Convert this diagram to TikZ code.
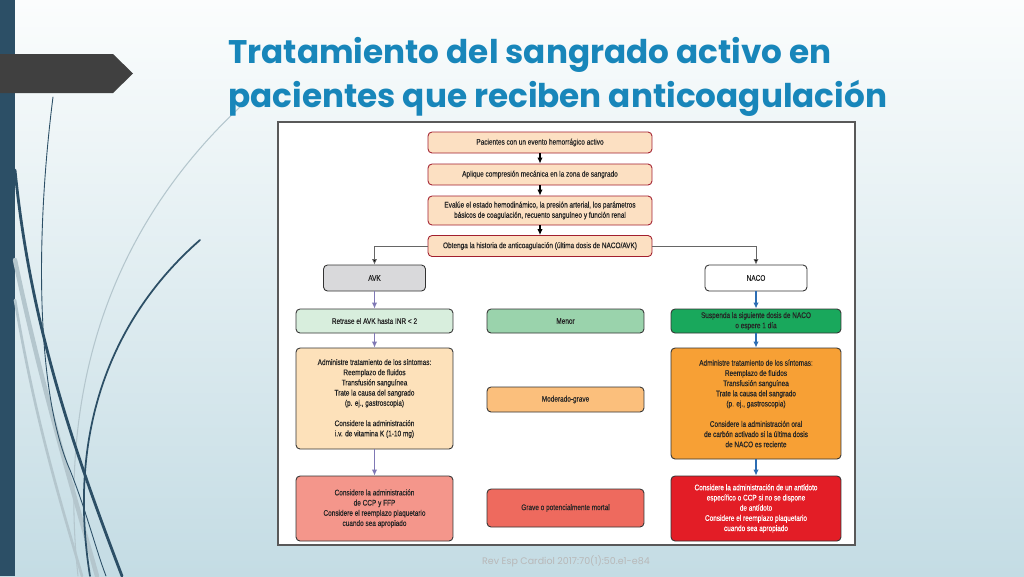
\documentclass[tikz,border=0pt]{standalone}
\usepackage{xcolor}
\usepackage{fontspec}
\setmainfont{Liberation Sans}
\newfontfamily\boxfont[FakeStretch=0.8,FakeBold=0.4]{Liberation Sans}
\newfontfamily\titlefont{Poppins}
\usepackage{tikz}
\usetikzlibrary{positioning,arrows.meta}

\definecolor{barblue}{HTML}{2C4F66}
\definecolor{titleblue}{HTML}{1886BA}
\definecolor{bgtop}{HTML}{FBFDFD}
\definecolor{bgbottom}{HTML}{C4DCE4}
\definecolor{lightline}{HTML}{B4C6CD}
\definecolor{peach}{HTML}{FCE0C2}
\definecolor{topborder}{HTML}{A21F2E}
\definecolor{avkgray}{HTML}{D9D9DB}
\definecolor{palegreen}{HTML}{D8EEDD}
\definecolor{midgreen}{HTML}{9AD3AC}
\definecolor{darkgreen}{HTML}{19A85C}
\definecolor{lightpeach}{HTML}{FDE1BA}
\definecolor{lightorange}{HTML}{FBBF7C}
\definecolor{orange}{HTML}{F7A035}
\definecolor{salmon}{HTML}{F4968B}
\definecolor{coral}{HTML}{EE6A5E}
\definecolor{brightred}{HTML}{E31D26}
\definecolor{avkarrow}{HTML}{7F78B5}
\definecolor{nacoarrow}{HTML}{2C6DB3}

\begin{document}
\begin{tikzpicture}[x=0.02cm, y=-0.02cm,
  box/.style={draw=black!80, rounded corners=0.8mm, line width=0.5pt, align=center,
    font=\boxfont\fontsize{4.6}{5.8}\selectfont, text=black!85, inner sep=1pt},
  topbox/.style={box, draw=topborder, fill=peach, minimum width=4.48cm, minimum height=0.42cm},
  drugbox/.style={box, minimum width=2.04cm, minimum height=0.52cm},
  leftbox/.style={box, minimum width=3.14cm},
  midbox/.style={box, minimum width=3.14cm},
  rightbox/.style={box, minimum width=3.4cm},
  flow/.style={-{Latex[length=1.2mm,width=1.1mm]}, line width=0.7pt},
  branch/.style={-{Latex[length=1.1mm,width=1mm,fill=black]}, draw=black!60, line width=0.4pt},
  avkflow/.style={flow, draw=avkarrow, -{Latex[length=1.2mm,width=1.1mm,fill=avkarrow]}},
  nacoflow/.style={flow, draw=nacoarrow, -{Latex[length=1.2mm,width=1.1mm,fill=nacoarrow]}},
  darkcurve/.style={draw=barblue, line cap=round},
  lightcurve/.style={draw=lightline, line cap=round},
]
  \useasboundingbox (0,0) rectangle (1024,576);

  % Background
  \shade[top color=bgtop, bottom color=bgbottom] (0,0) rectangle (1024,576);
  \fill[barblue] (0,0) rectangle (15,576);
  \fill[black!75] (0,54) -- (113,54) -- (133,73.5) -- (113,93) -- (0,93) -- cycle;

  % Decorative curves
  \draw[lightcurve, line width=2.5pt] (15,260) .. controls (40,380) and (70,480) .. (97,576);
  \draw[lightcurve, line width=1.5pt] (15,300) .. controls (35,420) and (60,500) .. (82,576);
  \draw[lightcurve, line width=0.6pt] (240,107) .. controls (130,210) and (55,360) .. (78,576);
  \draw[darkcurve, line width=0.5pt] (53,97) .. controls (36,230) and (35,390) .. (70,470) .. controls (86,510) and (96,550) .. (106,576);
  \draw[darkcurve, line width=1.6pt] (15,170) .. controls (30,320) and (70,440) .. (122,576);
  \draw[darkcurve, line width=1pt] (200,240) .. controls (120,310) and (65,420) .. (90,576);

  % Title
  \node[anchor=base west, font=\titlefont\bfseries\fontsize{18.6}{22}\selectfont, text=titleblue, inner sep=0pt]
    (title1) at (228,63) {Tratamiento del sangrado activo en};
  \node[anchor=base west, font=\titlefont\bfseries\fontsize{18.6}{22}\selectfont, text=titleblue, inner sep=0pt]
    (title2) at (228,107) {pacientes que reciben anticoagulación};

  % Panel
  \draw[fill=white, draw=black!65, line width=0.9pt] (278,122) rectangle (855,545);

  % Common steps
  \node[topbox] (evento) at (540,142.5) {Pacientes con un evento hemorrágico activo};
  \node[topbox] (compresion) at (540,174.5) {Aplique compresión mecánica en la zona de sangrado};
  \node[topbox, minimum height=0.58cm] (evalue) at (540,210.5) {Evalúe el estado hemodinámico, la presión arterial, los parámetros\\básicos de coagulación, recuento sanguíneo y función renal};
  \node[topbox] (historia) at (540,246) {Obtenga la historia de anticoagulación (última dosis de NACO/AVK)};

  % Drug type
  \node[drugbox, fill=avkgray] (avk) at (374.5,278) {AVK};
  \node[drugbox, fill=white] (naco) at (756,278) {NACO};

  % Severity rows
  \node[leftbox, fill=palegreen, minimum height=0.48cm] (retrase) at (374.5,321) {Retrase el AVK hasta INR < 2};
  \node[midbox, fill=midgreen, minimum height=0.48cm] (menor) at (565.5,321) {Menor};
  \node[rightbox, fill=darkgreen, minimum height=0.48cm] (suspenda) at (756,321) {Suspenda la siguiente dosis de NACO\\o espere 1 día};

  \node[leftbox, fill=lightpeach, minimum height=2.02cm] (sintavk) at (374.5,398.5) {Administre tratamiento de los síntomas:\\Reemplazo de fluidos\\Transfusión sanguínea\\Trate la causa del sangrado\\(p. ej., gastroscopia)\\[5.8pt]Considere la administración\\i.v. de vitamina K (1-10 mg)};
  \node[midbox, fill=lightorange, minimum height=0.5cm] (moderado) at (565.5,399.5) {Moderado-grave};
  \node[rightbox, fill=orange, minimum height=2.22cm] (sintnaco) at (756,403.5) {Administre tratamiento de los síntomas:\\Reemplazo de fluidos\\Transfusión sanguínea\\Trate la causa del sangrado\\(p. ej., gastroscopia)\\[5.8pt]Considere la administración oral\\de carbón activado si la última dosis\\de NACO es reciente};

  \node[leftbox, fill=salmon, minimum height=1.3cm] (ccpavk) at (374.5,508.5) {Considere la administración\\de CCP y FFP\\Considere el reemplazo plaquetario\\cuando sea apropiado};
  \node[midbox, fill=coral, minimum height=0.76cm] (grave) at (565.5,508) {Grave o potencialmente mortal};
  \node[rightbox, fill=brightred, text=white, minimum height=1.3cm] (antidoto) at (756,508.5) {Considere la administración de un antídoto\\específico o CCP si no se dispone\\de antídoto\\Considere el reemplazo plaquetario\\cuando sea apropiado};

  % Connectors
  \draw[flow] (evento) -- (compresion);
  \draw[flow] (compresion) -- (evalue);
  \draw[flow] (evalue) -- (historia);
  \draw[branch] (historia.west) -| (avk.north);
  \draw[branch] (historia.east) -| (naco.north);
  \draw[avkflow] (avk) -- (retrase);
  \draw[avkflow] (retrase) -- (sintavk);
  \draw[avkflow] (sintavk) -- (ccpavk);
  \draw[nacoflow] (naco) -- (suspenda);
  \draw[nacoflow] (suspenda) -- (sintnaco);
  \draw[nacoflow] (sintnaco) -- (antidoto);

  % Source
  \node[font=\titlefont\fontsize{5.4}{7}\selectfont, text=black!28] (fuente) at (566,561) {Rev Esp Cardiol 2017:70(1):50.e1-e84};
\end{tikzpicture}
\end{document}
